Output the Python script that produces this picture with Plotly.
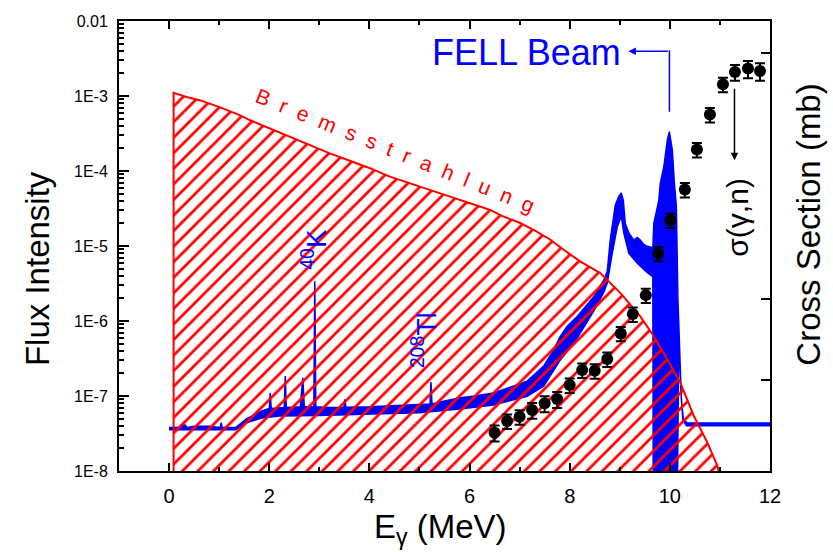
import plotly.graph_objects as go

# ---------------- data ----------------
# Bremsstrahlung spectrum (MeV, flux)
brems_E = [0.09, 0.35, 0.61, 1.01, 1.41, 1.61, 2.01, 2.41, 2.81, 3.21, 3.61, 4.01,
           4.41, 4.81, 5.21, 5.61, 6.01, 6.41, 6.68, 7.0, 7.3, 7.6, 7.88, 8.2,
           8.61, 9.01, 9.41, 9.68, 9.95, 10.21, 10.48, 10.75, 10.95, 11.0]
brems_flux = [1.10e-3, 9.7e-4, 8.8e-4, 7.1e-4, 5.57e-4, 4.78e-4, 3.71e-4, 2.86e-4,
              2.22e-4, 1.72e-4, 1.37e-4, 1.09e-4, 8.4e-5, 6.9e-5, 5.6e-5, 4.56e-5,
              3.72e-5, 3.03e-5, 2.47e-5, 2.04e-5, 1.62e-5, 1.23e-5, 8.9e-6, 6.3e-6,
              4.36e-6, 2.37e-6, 1.15e-6, 6.25e-7, 3.06e-7, 1.5e-7, 5.4e-8, 2.39e-8,
              1.17e-8, 8.0e-9]

# FELL beam spectrum: upper and lower envelope of the measured trace
spec_upper_E = [0.0, 0.2, 0.24, 0.32, 0.36, 0.5, 0.8, 1.02, 1.04, 1.06, 1.33, 1.55,
                1.7, 1.85, 2.0, 2.02, 2.04, 2.30, 2.32, 2.34, 2.62, 2.67, 2.70, 2.89,
                2.91, 2.93, 3.2, 3.49, 3.51, 3.53, 4.0, 4.5, 5.0, 5.21, 5.23, 5.25,
                5.5, 5.81, 6.1, 6.48, 6.8, 7.15, 7.48, 7.65, 7.81, 7.95, 8.15, 8.3,
                8.48, 8.68, 8.75, 8.81, 8.88, 8.91, 8.98, 9.03, 9.07, 9.11, 9.18,
                9.28, 9.35, 9.41, 9.48, 9.55, 9.66, 9.68, 9.78, 9.81, 9.88, 9.95,
                9.99, 10.02, 10.05, 10.09, 10.13, 10.16, 10.2, 10.23, 10.27, 10.35,
                11.0, 12.0]
spec_upper = [3.8e-8, 3.8e-8, 4.1e-8, 4.1e-8, 3.8e-8, 3.95e-8, 3.95e-8, 3.8e-8, 4.4e-8,
              3.8e-8, 3.8e-8, 5.0e-8, 5.6e-8, 6.3e-8, 6.8e-8, 1.1e-7, 6.8e-8, 7.0e-8,
              1.85e-7, 7.0e-8, 7.2e-8, 1.75e-7, 7.2e-8, 7.2e-8, 3.4e-6, 7.2e-8, 7.0e-8,
              7.1e-8, 9.0e-8, 7.1e-8, 7.2e-8, 7.4e-8, 7.6e-8, 7.8e-8, 1.53e-7, 7.8e-8,
              8.6e-8, 9.5e-8, 1.0e-7, 1.1e-7, 1.3e-7, 1.58e-7, 2.5e-7, 3.8e-7, 6.2e-7,
              8.5e-7, 1.15e-6, 1.5e-6, 2.1e-6, 3.5e-6, 4.6e-6, 1.2e-5, 2.5e-5, 3.5e-5,
              4.6e-5, 5.1e-5, 4.1e-5, 2.0e-5, 1.5e-5, 1.2e-5, 1.3e-5, 1.2e-5, 1.05e-5,
              9.9e-6, 9.5e-6, 2.0e-5, 4.1e-5, 6.9e-5, 1.14e-4, 2.6e-4, 3.35e-4, 2.6e-4,
              1.9e-4, 6.9e-5, 3.4e-5, 2.1e-6, 3.4e-7, 9.0e-8, 4.9e-8, 4.35e-8, 4.35e-8,
              4.35e-8]
spec_lower_E = [0.0, 1.33, 1.55, 1.85, 2.2, 3.0, 4.0, 5.0, 5.81, 6.48, 7.15, 7.48,
                7.81, 8.15, 8.48, 8.68, 8.75, 8.85, 8.95, 9.03, 9.08, 9.18, 9.35,
                9.55, 9.66, 9.67, 10.14, 10.18, 10.22, 10.26, 10.33, 12.0]
spec_lower = [3.55e-8, 3.55e-8, 4.4e-8, 5.1e-8, 5.4e-8, 5.5e-8, 5.7e-8, 6.0e-8, 6.7e-8,
              7.6e-8, 9.9e-8, 1.35e-7, 3.0e-7, 5.9e-7, 1.35e-6, 2.4e-6, 3.2e-6, 8.0e-6,
              1.8e-5, 2.5e-5, 1.5e-5, 8.0e-6, 5.9e-6, 4.4e-6, 3.9e-6, 1e-9, 1e-9,
              6e-7, 1.2e-7, 4.8e-8, 4.0e-8, 4.0e-8]

# sigma(gamma,n) cross section (MeV, mb, relative error)
xs_E = [6.5, 6.75, 7.0, 7.25, 7.5, 7.75, 8.0, 8.25, 8.5, 8.75, 9.02, 9.26, 9.52,
        9.77, 10.01, 10.3, 10.54, 10.8, 11.06, 11.3, 11.56, 11.8]
xs_mb = [0.00230, 0.00319, 0.00360, 0.00435, 0.00525, 0.00592, 0.00878, 0.01339,
         0.01313, 0.01824, 0.03758, 0.06471, 0.1103, 0.3565, 0.909, 2.157, 6.64,
         17.8, 41.7, 58.9, 64.8, 60.6]
xs_relerr = [0.22, 0.2, 0.2, 0.22, 0.22, 0.22, 0.2, 0.2, 0.2, 0.2, 0.2, 0.2, 0.2,
             0.2, 0.2, 0.2, 0.2, 0.2, 0.2, 0.22, 0.24, 0.24]

y_tickvals = [1e-8, 1e-7, 1e-6, 1e-5, 1e-4, 1e-3, 1e-2]
y_ticktext = ["1E-8", "1E-7", "1E-6", "1E-5", "1E-4", "1E-3", "0.01"]
y_minor = [m * 10.0 ** d for d in range(-8, -2) for m in range(2, 10)]
y2_tickvals = [0.01, 0.1, 100]

FLOOR = 1e-9
BLUE = "#0000FF"
RED = "#FF0000"
FONT = "Liberation Sans, Arial, sans-serif"

fig = go.Figure()

# blue spectrum band (polygon upper -> reversed lower)
fig.add_trace(go.Scatter(
    x=spec_upper_E + spec_lower_E[::-1],
    y=spec_upper + spec_lower[::-1],
    mode="lines", fill="toself", fillcolor=BLUE,
    line=dict(color=BLUE, width=1.5), hoverinfo="skip"))

# Bremsstrahlung hatched area
fig.add_trace(go.Scatter(
    x=[brems_E[0]] + brems_E + [brems_E[-1]],
    y=[FLOOR] + brems_flux + [FLOOR],
    mode="lines", fill="toself", fillcolor="rgba(0,0,0,0)",
    fillpattern=dict(shape="/", fgcolor=RED, bgcolor="rgba(0,0,0,0)",
                     size=11, solidity=0.25, fillmode="replace"),
    line=dict(color=RED, width=2), hoverinfo="skip"))

# cross section points on the right axis
fig.add_trace(go.Scatter(
    x=xs_E, y=xs_mb, yaxis="y2", mode="markers",
    marker=dict(color="black", size=12, symbol="circle"),
    error_y=dict(type="data", array=[v * r for v, r in zip(xs_mb, xs_relerr)],
                 color="black", thickness=2, width=5),
    hoverinfo="skip"))

axis_common = dict(showline=True, linewidth=2, linecolor="black", showgrid=False,
                   zeroline=False, ticks="inside", tickcolor="black", tickwidth=2)

fig.update_layout(
    width=833, height=552,
    margin=dict(l=119, r=63, t=21, b=81),
    plot_bgcolor="white", paper_bgcolor="white",
    showlegend=False,
    font=dict(family=FONT, color="black"),
    xaxis=dict(range=[-1, 12], tick0=0, dtick=2, ticklen=8, mirror="ticks",
               tickfont=dict(size=20, family=FONT), ticklabelstandoff=6,
               minor=dict(tick0=0, dtick=1, ticks="inside", ticklen=4,
                          tickwidth=2, tickcolor="black"),
               **axis_common),
    yaxis=dict(type="log", range=[-8, -2], tickvals=y_tickvals, ticktext=y_ticktext,
               ticklen=10, mirror=False, tickfont=dict(size=16, family=FONT),
               ticklabelstandoff=6,
               minor=dict(tickmode="array", tickvals=y_minor, ticks="inside",
                          ticklen=5, tickwidth=1.5, tickcolor="black"),
               **axis_common),
    yaxis2=dict(type="log", overlaying="y", side="right", range=[-3.107, 2.393],
                tickvals=y2_tickvals, showticklabels=False, ticklen=9,
                **axis_common),
)

def pap(px, py):
    return (px - 119) / 650.5, (471 - py) / 450.3

ann = []
x, y = pap(37, 268)
ann.append(dict(text="Flux Intensity", x=x, y=y, textangle=-90, font=dict(size=33)))
x, y = pap(808, 225)
ann.append(dict(text="Cross Section (mb)", x=x, y=y, textangle=-90, font=dict(size=33)))
x, y = pap(440, 529)
ann.append(dict(text="E<sub>γ</sub> (MeV)", x=x, y=y, font=dict(size=33)))
x, y = pap(737, 217)
ann.append(dict(text="σ(γ,n)", x=x, y=y, textangle=-90, font=dict(size=30)))
x, y = pap(526, 52)
ann.append(dict(text="FELL Beam", x=x, y=y, font=dict(size=36, color=BLUE)))
x, y = pap(395, 150)
sp = "\u00a0\u00a0"
ann.append(dict(text=sp.join("Bremsstrahlung"), x=x, y=y, textangle=22,
                font=dict(size=21, color=RED)))
x, y = pap(314, 249.5)
ann.append(dict(text="<sup>40</sup>K", x=x, y=y, textangle=-90,
                font=dict(size=28, color=BLUE)))
x, y = pap(423.5, 340.5)
ann.append(dict(text="<sup>208</sup>Tl", x=x, y=y, textangle=-90,
                font=dict(size=28, color=BLUE)))
for a in ann:
    a.update(xref="paper", yref="paper", showarrow=False,
             xanchor="center", yanchor="middle")

# arrows
x, y = pap(734, 160)
ann.append(dict(text="", x=x, y=y, xref="paper", yref="paper", showarrow=True,
                ax=0, ay=-73, arrowhead=2, arrowsize=1, arrowwidth=1.5,
                arrowcolor="black"))
x, y = pap(628, 51)
ann.append(dict(text="", x=x, y=y, xref="paper", yref="paper", showarrow=True,
                ax=41, ay=0, arrowhead=2, arrowsize=1, arrowwidth=1.5,
                arrowcolor=BLUE))
x, y = pap(669, 50)
ann.append(dict(text="", x=x, y=y, xref="paper", yref="paper", showarrow=True,
                ax=0, ay=63, arrowhead=0, arrowwidth=1.5, arrowcolor=BLUE))
fig.update_layout(annotations=ann)

fig.write_html("out.html",
               config={"displayModeBar": False},
               post_script="document.body.style.margin='0px';"
                           "document.body.style.padding='0px';")
